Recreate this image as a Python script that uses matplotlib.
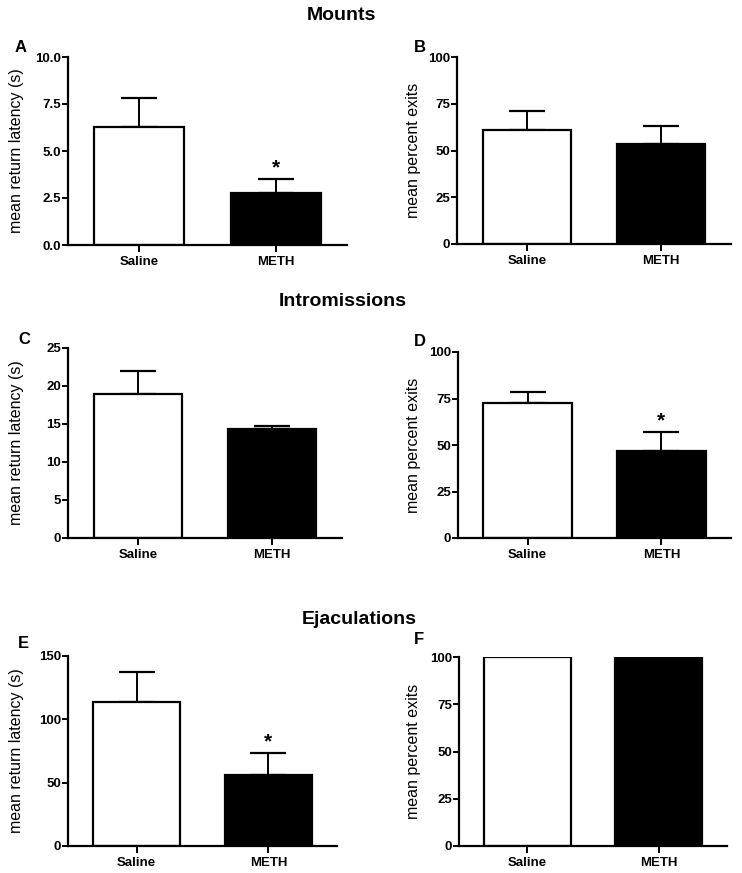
import matplotlib
matplotlib.use('Agg')
import matplotlib.pyplot as plt

plt.rcParams['font.family'] = ['Liberation Sans', 'DejaVu Sans']

# data
groups = ['Saline', 'METH']
mount_lat = [6.28, 2.77]
mount_lat_err = [1.55, 0.75]
mount_exit = [61.0, 53.5]
mount_exit_err = [10.0, 9.5]
intro_lat = [18.9, 14.3]
intro_lat_err = [3.1, 0.4]
intro_exit = [72.6, 46.8]
intro_exit_err = [6.0, 10.2]
ejac_lat = [113.7, 56.0]
ejac_lat_err = [23.7, 17.5]
ejac_exit = [100.0, 100.0]
ejac_exit_err = [0.0, 0.0]

W, H = 742, 873
fig = plt.figure(figsize=(W / 100, H / 100), dpi=100)

def px_axes(l, t, r, b):
    return fig.add_axes([l / W, 1 - b / H, (r - l) / W, (b - t) / H])

panels = [
    # letter, axes box (px), values, errors, yticks, ticklabels, ylabel, star, letter pos
    ('A', (68, 57, 347, 245), mount_lat, mount_lat_err, [0, 2.5, 5.0, 7.5, 10.0],
     ['0.0', '2.5', '5.0', '7.5', '10.0'], 'mean return latency (s)', True, (15, 47)),
    ('B', (457, 57, 731, 244), mount_exit, mount_exit_err, [0, 25, 50, 75, 100],
     None, 'mean percent exits', False, (414, 47)),
    ('C', (68, 348, 342, 538), intro_lat, intro_lat_err, [0, 5, 10, 15, 20, 25],
     None, 'mean return latency (s)', False, (18, 340)),
    ('D', (458, 352, 731, 538), intro_exit, intro_exit_err, [0, 25, 50, 75, 100],
     None, 'mean percent exits', True, (414, 342)),
    ('E', (68, 656, 337, 846), ejac_lat, ejac_lat_err, [0, 50, 100, 150],
     None, 'mean return latency (s)', True, (18, 643)),
    ('F', (459, 657, 727, 846), ejac_exit, ejac_exit_err, [0, 25, 50, 75, 100],
     None, 'mean percent exits', False, (414, 640)),
]

x = [0, 1]
for letter, box, vals, errs, yt, ytl, ylab, star, lpos in panels:
    ax = px_axes(*box)
    ax.bar(x, vals, width=0.66, color=['white', 'black'], edgecolor='black',
           linewidth=1.6, zorder=2)
    for xi, v, e in zip(x, vals, errs):
        if e > 0:
            ax.errorbar(xi, v, yerr=[[0], [e]], fmt='none', ecolor='black',
                        elinewidth=1.4, capsize=13, capthick=1.6, zorder=1)
    ax.set_xlim(-0.52, 1.52)
    ax.set_ylim(0, yt[-1])
    ax.set_yticks(yt)
    if ytl:
        ax.set_yticklabels(ytl)
    ax.set_xticks(x)
    ax.set_xticklabels(groups, fontweight='bold', fontsize=9.5)
    for lab in ax.get_yticklabels():
        lab.set_fontweight('bold')
        lab.set_fontsize(9.5)
    ax.spines['top'].set_visible(False)
    ax.spines['right'].set_visible(False)
    ax.spines['left'].set_linewidth(1.6)
    ax.spines['bottom'].set_linewidth(1.6)
    ax.tick_params(axis='y', length=4, width=1.4, pad=1)
    ax.tick_params(axis='x', length=5, width=1.4, pad=3)
    ax.set_ylabel(ylab, fontsize=11.5)
    axw = box[2] - box[0]
    lab_x = 24 if box[0] < 300 else 421
    ax.yaxis.set_label_coords((lab_x - box[0]) / axw, 0.5)
    if star:
        ax.annotate('*', (1, vals[1] + errs[1]), xytext=(0, 1),
                    textcoords='offset points', ha='center', va='bottom',
                    fontsize=15, fontweight='bold')
    fig.text(lpos[0] / W, 1 - lpos[1] / H, letter, fontsize=12,
             fontweight='bold', ha='left', va='center')

titles = ['Mounts', 'Intromissions', 'Ejaculations']
title_pos = [(341, 15), (343, 302), (359, 620)]
for t, (tx, ty) in zip(titles, title_pos):
    fig.text(tx / W, 1 - ty / H, t, fontsize=14, fontweight='bold',
             ha='center', va='center')

fig.savefig('out.png', dpi=100)
